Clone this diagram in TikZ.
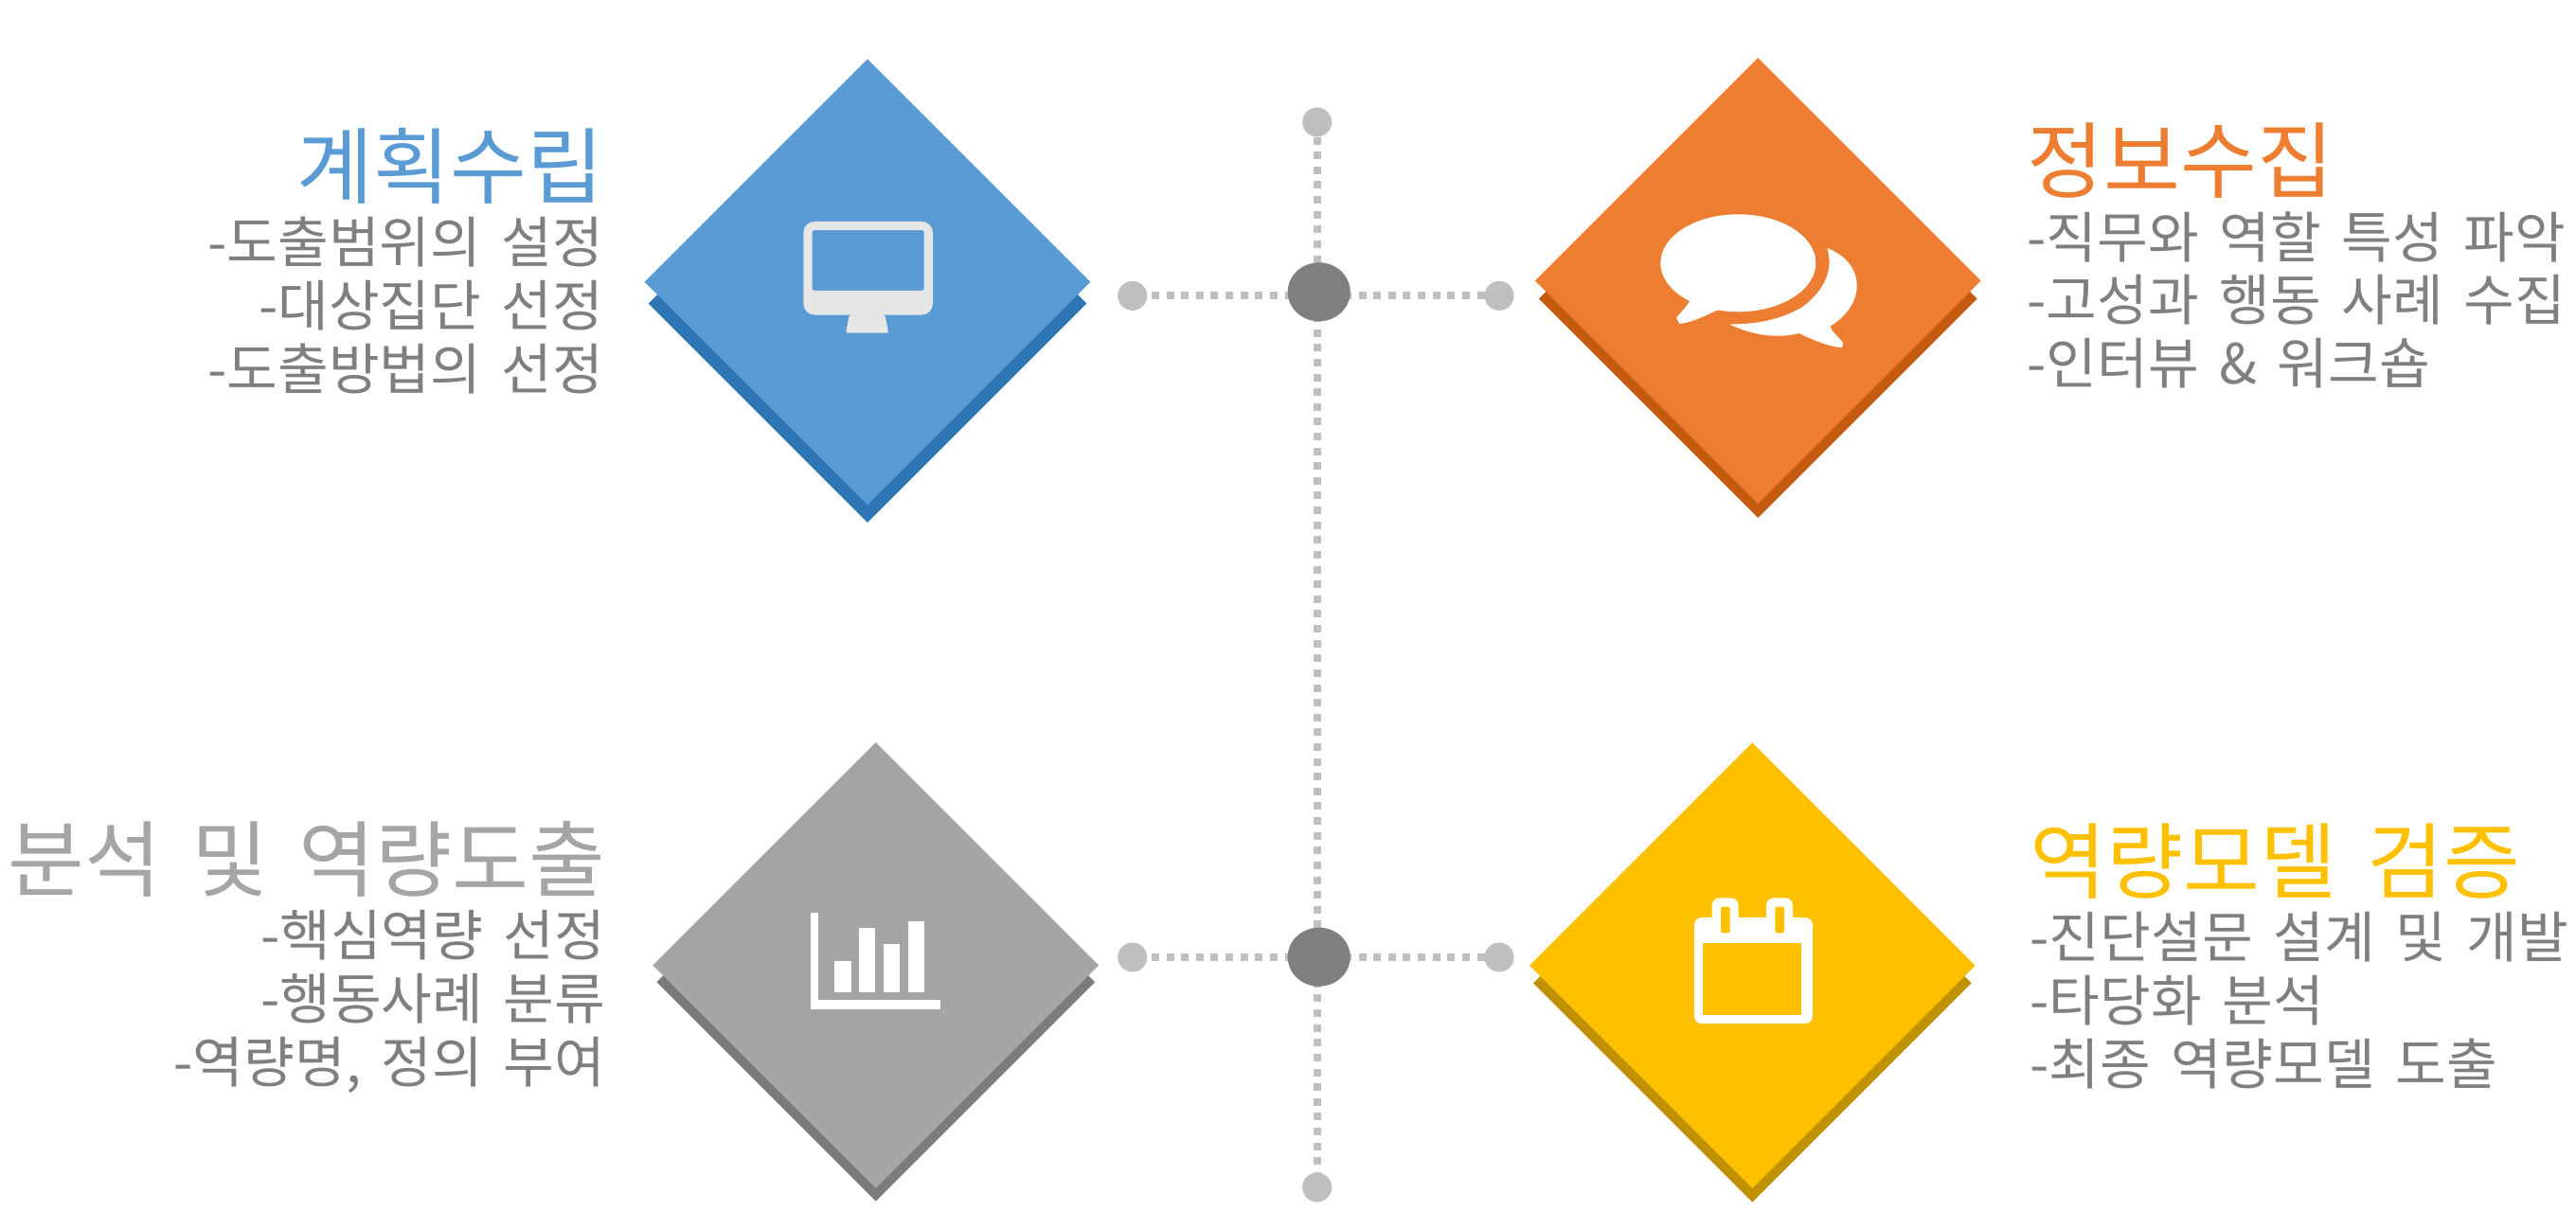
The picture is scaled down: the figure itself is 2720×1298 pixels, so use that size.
\documentclass[tikz,border=0pt]{standalone}
\usepackage{fontspec}
\newfontfamily\cjk[WordSpace=1.65]{Noto Sans CJK KR}
\usetikzlibrary{positioning, shapes.geometric, backgrounds}

\definecolor{planblue}{HTML}{5B9BD5}
\definecolor{planshadow}{HTML}{2E75B6}
\definecolor{infoorange}{HTML}{ED7D31}
\definecolor{infoshadow}{HTML}{C55A11}
\definecolor{analysisgray}{HTML}{A5A5A5}
\definecolor{analysisshadow}{HTML}{7B7B7B}
\definecolor{verifyyellow}{HTML}{FFC000}
\definecolor{verifyshadow}{HTML}{BF9000}
\definecolor{dotgray}{HTML}{BFBFBF}
\definecolor{hubgray}{HTML}{7F7F7F}
\definecolor{screengray}{HTML}{E6E6E6}

\tikzset{
  topdiamond/.style={diamond, inner sep=0pt, minimum width=4.71cm, minimum height=4.71cm, fill=#1},
  shadediamond/.style={diamond, inner sep=0pt, minimum width=4.63cm, minimum height=4.63cm, fill=#1},
  enddot/.style={circle, inner sep=0pt, minimum size=0.31cm, fill=dotgray},
  hub/.style={ellipse, inner sep=0pt, minimum width=0.66cm, minimum height=0.62cm, fill=hubgray},
  dotline/.style={draw=dotgray, line width=0.08cm, dash pattern=on 0.08cm off 0.0761cm},
  titletext/.style={inner sep=0pt, text=#1, font=\cjk\fontsize{25}{28}\selectfont},
  bodytext/.style={inner sep=0pt, text=hubgray, font=\cjk\fontsize{16.6}{19}\selectfont}
}

\begin{document}
\begin{tikzpicture}[x=0.01cm, y=-0.01cm]
\useasboundingbox (0,0) rectangle (2720,1298);

\node (planshade) [shadediamond=planshadow] at (916,320.6) {};
\node (plandiamond) [topdiamond=planblue] at (916,297.7) {};
\node (infoshade) [shadediamond=infoshadow] at (1856.3,315.5) {};
\node (infodiamond) [topdiamond=infoorange] at (1856.3,296.5) {};
\node (analysisshade) [shadediamond=analysisshadow] at (924.7,1037.3) {};
\node (analysisdiamond) [topdiamond=analysisgray] at (924.7,1019.5) {};
\node (verifyshade) [shadediamond=verifyshadow] at (1850.3,1038.3) {};
\node (verifydiamond) [topdiamond=verifyyellow] at (1850.3,1019.7) {};

\node (topdot) [enddot] at (1390.7,129) {};
\node (bottomdot) [enddot] at (1390.7,1254) {};
\node (upperhub) [hub] at (1392.7,308.3) {};
\node (lowerhub) [hub] at (1392.7,1010.7) {};
\node (upperleft) [enddot] at (1195.7,312.4) {};
\node (upperright) [enddot] at (1583,312.4) {};
\node (lowerleft) [enddot] at (1195.7,1011) {};
\node (lowerright) [enddot] at (1583,1011) {};

\begin{pgfonlayer}{background}
\draw[dotline] (topdot.center) -- (bottomdot.center);
\draw[dotline, dash phase=0.11cm] (upperleft.center) -- (upperright.center);
\draw[dotline, dash phase=0.11cm] (lowerleft.center) -- (lowerright.center);
\end{pgfonlayer}

\fill[screengray, even odd rule] [rounded corners=0.12cm] (848.3,233.9) rectangle (985,332.7)
    [rounded corners=0.02cm] (857.7,243.2) rectangle (975.7,306.9);
\fill[screengray, rounded corners=0.02cm] (897,332) -- (893,351.6) -- (938.3,351.6) -- (934.3,332) -- cycle;

\fill[white] (1835.3,277.8) ellipse [x radius=82, y radius=51.5];
\fill[white] (1785,314) .. controls (1784,322) and (1776,328) .. (1770,335.5) -- (1773.3,342)
    .. controls (1790,340) and (1805,331) .. (1816.7,326) -- cycle;
\fill[white] (1929.3,262.1) .. controls (1950,270) and (1960.7,285) .. (1960.7,301.7)
    .. controls (1960.7,320) and (1948,335) .. (1932.3,344.8)
    .. controls (1935,352) and (1942,356) .. (1946,362) -- (1945.3,367.1)
    .. controls (1935,367) and (1915,360) .. (1900,352)
    .. controls (1875,358) and (1850,354) .. (1826,342.3)
    .. controls (1860,343) and (1885,335) .. (1903.3,324.1)
    .. controls (1920,312) and (1938,290) .. (1929.3,262.1) -- cycle;

\fill[white] (856,964) rectangle (864,1065.7);
\fill[white] (856,1056) rectangle (993,1065.7);
\fill[white] (881,1015.3) rectangle (899.3,1048.3);
\fill[white] (907,980.3) rectangle (923.7,1048.3);
\fill[white] (933,997.3) rectangle (950.3,1048.3);
\fill[white] (959,973.3) rectangle (976.3,1048.3);

\fill[white, rounded corners=0.08cm] (1789,969) rectangle (1914,1081);
\fill[white, rounded corners=0.08cm] (1807.7,948.3) rectangle (1835.7,985);
\fill[white, rounded corners=0.08cm] (1865,948.3) rectangle (1893,985);
\fill[verifyyellow] (1798,996.3) rectangle (1902.3,1072);
\fill[verifyyellow, rounded corners=0.02cm] (1817,957.7) rectangle (1826.7,985.3);
\fill[verifyyellow, rounded corners=0.02cm] (1874.3,957.7) rectangle (1884,985.3);

\node (plantitle) [titletext=planblue, anchor=base east] at (638,209) {계획수립};
\node (plantext) [bodytext, align=right, below=0.195cm of plantitle.base east, anchor=north east]
    {-도출범위의 설정\\-대상집단 선정\\-도출방법의 선정};
\node (infotitle) [titletext=infoorange, anchor=base west] at (2140,203) {정보수집};
\node (infotext) [bodytext, align=left, below=0.195cm of infotitle.base west, anchor=north west]
    {-직무와 역할 특성 파악\\-고성과 행동 사례 수집\\-인터뷰 \& 워크숍};
\node (analysistitle) [titletext=analysisgray, anchor=base east] at (640,941) {분석 및 역량도출};
\node (analysistext) [bodytext, align=right, below=0.195cm of analysistitle.base east, anchor=north east]
    {-핵심역량 선정\\-행동사례 분류\\-역량명, 정의 부여};
\node (verifytitle) [titletext=verifyyellow, anchor=base west] at (2143,943) {역량모델 검증};
\node (verifytext) [bodytext, align=left, below=0.195cm of verifytitle.base west, anchor=north west]
    {-진단설문 설계 및 개발\\-타당화 분석\\-최종 역량모델 도출};
\end{tikzpicture}
\end{document}
